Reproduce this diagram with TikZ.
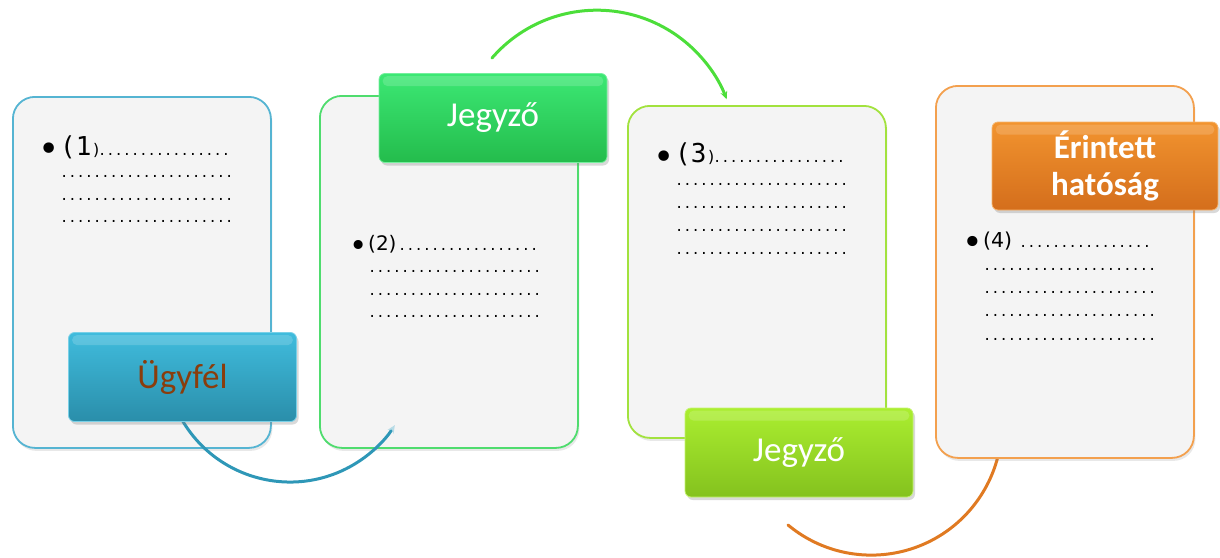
\documentclass[tikz,border=0pt]{standalone}
\usepackage{fontspec}
\setmainfont{Carlito}
\newfontfamily\bulfont{DejaVu Sans}
\newfontfamily\dotfont{DejaVu Sans Mono}
\usetikzlibrary{shadows,arrows.meta}
\definecolor{cardfill}{HTML}{F4F4F4}
\definecolor{cblue}{HTML}{55B4D2}
\definecolor{cgreen}{HTML}{4FDC6E}
\definecolor{clime}{HTML}{A2E23E}
\definecolor{corange}{HTML}{F3A04E}
\definecolor{bluetop}{HTML}{40BCDD}
\definecolor{bluebot}{HTML}{2A8EAA}
\definecolor{greentop}{HTML}{3CE874}
\definecolor{greenbot}{HTML}{24BC4C}
\definecolor{limetop}{HTML}{ABEE30}
\definecolor{limebot}{HTML}{84C21E}
\definecolor{orangetop}{HTML}{F2942F}
\definecolor{orangebot}{HTML}{D46E1C}
\definecolor{ugybrown}{HTML}{8A3D0C}
\definecolor{arcblue}{HTML}{2E97B7}
\definecolor{arcgreen}{HTML}{4CDE3A}
\definecolor{arcorange}{HTML}{E07A22}
% bullet: #1 size, #2 lowering
\newcommand{\bul}[2]{\llap{\raisebox{-#2pt}{\bulfont\fontsize{#1}{#1}\selectfont\textbullet}\hspace{0.5pt}}}
\newcommand{\sz}[1]{\fontsize{#1}{#1}\selectfont}
\begin{document}
\begin{tikzpicture}[x=1pt,y=1pt,
  card/.style={draw=#1, line width=1.8pt, fill=cardfill, rounded corners=22pt,
    minimum width=258pt, anchor=north west, inner sep=0pt,
    drop shadow={opacity=0.18, shadow xshift=1.5pt, shadow yshift=-3pt}},
  cbox/.style={rounded corners=6pt, minimum width=228pt, minimum height=89pt,
    inner sep=0pt, align=center, font=\fontsize{35}{37}\selectfont, text=white,
    drop shadow={opacity=0.3, shadow xshift=2pt, shadow yshift=-3pt}},
  gloss/.style={fill=white, opacity=0.16, rounded corners=5pt},
  rowtxt/.style={anchor=base west, inner sep=0pt, font=\dotfont\fontsize{13.7}{16}\selectfont},
  arcline/.style={line width=3pt, line cap=round}
]
\useasboundingbox (0,0) rectangle (1220,-557);

% orange connector runs beneath card 4
\coordinate (os) at (788,-525);
\draw[arcline, arcorange] (os) arc[start angle=230.3, end angle=352, radius=130.5];

% cards
\node[card=cblue,   minimum height=351pt] (card1) at (12,-96) {};
\node[card=cgreen,  minimum height=352pt] (card2) at (319,-95) {};
\node[card=clime,   minimum height=332pt] (card3) at (627,-105) {};
\node[card=corange, minimum height=372pt] (card4) at (935,-85) {};

% card texts
\node[rowtxt] (t1a) at (60,-155) {\bul{36}{6.5}\makebox[38pt][l]{\sz{26}(1{\sz{16})}}................};
\node[rowtxt] (t1b) at (60,-177.5) {.....................};
\node[rowtxt] (t1c) at (60,-200) {.....................};
\node[rowtxt] (t1d) at (60,-222.5) {.....................};

\node[rowtxt] (t2a) at (368,-250) {\bul{31}{6}\makebox[30pt][l]{\bulfont\sz{20}(2)}.................};
\node[rowtxt] (t2b) at (368,-272.5) {.....................};
\node[rowtxt] (t2c) at (368,-295) {.....................};
\node[rowtxt] (t2d) at (368,-317.5) {.....................};

\node[rowtxt] (t3a) at (675,-162) {\bul{36}{7}\makebox[38pt][l]{\sz{26}(3{\sz{16})}}................};
\node[rowtxt] (t3b) at (675,-185) {.....................};
\node[rowtxt] (t3c) at (675,-208) {.....................};
\node[rowtxt] (t3d) at (675,-231) {.....................};
\node[rowtxt] (t3e) at (675,-254) {.....................};

\node[rowtxt] (t4a) at (983,-247) {\bul{35}{7}\makebox[36pt][l]{\bulfont\sz{20.5}(4)}................};
\node[rowtxt] (t4b) at (983,-270) {.....................};
\node[rowtxt] (t4c) at (983,-293) {.....................};
\node[rowtxt] (t4d) at (983,-316.5) {.....................};
\node[rowtxt] (t4e) at (983,-340) {.....................};

% connectors
\coordinate (bs) at (182.9,-421.4);
\draw[arcline, arcblue, -{Stealth[length=8pt,width=7pt,color=arcblue!35]}] (bs) arc[start angle=211, end angle=327, radius=125];
\coordinate (gs) at (492,-58);
\draw[arcline, arcgreen, -{Stealth[length=8pt,width=7pt]}] (gs) arc[start angle=139, end angle=21, radius=139];

% coloured boxes
\node[cbox, top color=bluetop, bottom color=bluebot, draw=bluetop!70!white, line width=0.8pt, text=ugybrown] (ugy) at (182.5,-377) {Ügyfél};
\node[cbox, top color=greentop, bottom color=greenbot, draw=greentop!70!white, line width=0.8pt] (jeg1) at (493,-118) {Jegyző};
\node[cbox, top color=limetop, bottom color=limebot, draw=limetop!70!white, line width=0.8pt] (jeg2) at (799,-452.5) {Jegyző};
\node[cbox, top color=orangetop, bottom color=orangebot, draw=orangetop!70!white, line width=0.8pt, minimum width=226pt, minimum height=88pt, font=\bfseries\fontsize{33}{37}\selectfont] (erint) at (1105,-166) {Érintett\\hatóság};

% glossy highlight bands
\foreach \b in {ugy,jeg1,jeg2,erint}{
  \fill[gloss] ([xshift=4pt,yshift=-3pt]\b.north west) rectangle ([xshift=-4pt,yshift=-13pt]\b.north east);
}
\end{tikzpicture}
\end{document}
